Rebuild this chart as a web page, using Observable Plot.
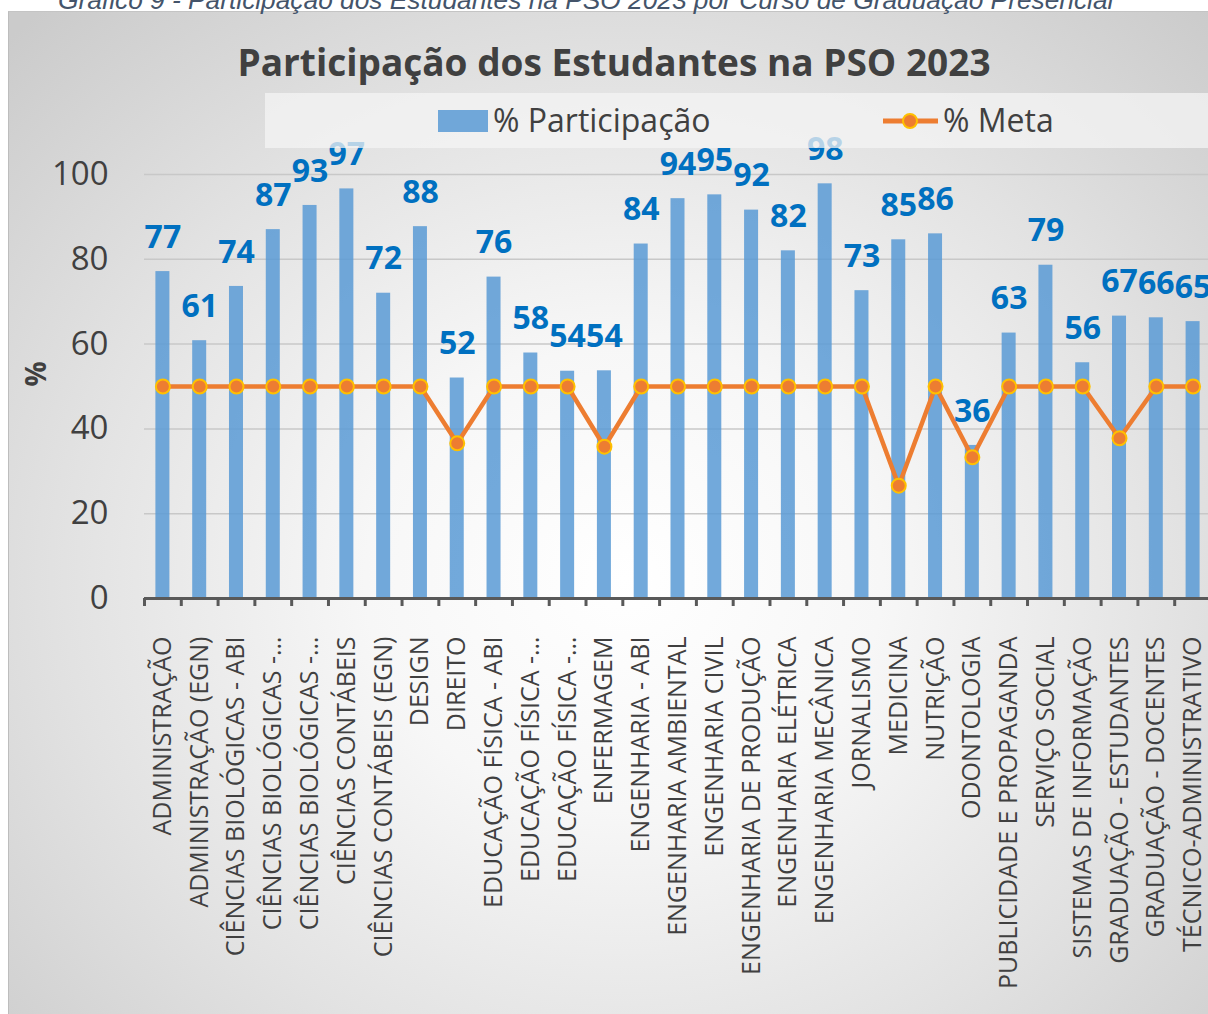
<!DOCTYPE html>
<html>
<head>
<meta charset="utf-8">
<script src="https://cdn.jsdelivr.net/npm/d3@7"></script>
<script src="https://cdn.jsdelivr.net/npm/@observablehq/plot@0.6"></script>
<style>
  html, body { margin: 0; padding: 0; background: #ffffff; overflow: hidden; }
  #chart { position: relative; width: 1208px; height: 1014px; overflow: hidden; font-family: "Open Sans", sans-serif; }
  #bg { position: absolute; left: 8px; top: 11px; width: 1230px; height: 1030px;
        background: radial-gradient(ellipse 70% 75% at 50% 55%, #ffffff 0%, #f7f7f7 30%, #e2e2e2 65%, #cbcbcb 100%);
        border-left: 1px solid #bdbdbd; border-top: 1px solid #c4c4c4; }
  #caption { position: absolute; left: 58px; top: -13px; font-family: "Liberation Sans", Arial, sans-serif; font-style: italic;
             font-size: 26.3px; line-height: 26px; color: #44546A; white-space: nowrap; }
  #title { position: absolute; left: 0; width: 1228px; top: 38px; text-align: center; font-weight: bold; font-size: 37px;
           line-height: 48px; color: #404040; white-space: nowrap; }
  #legendbox { position: absolute; left: 265px; top: 93px; width: 960px; height: 55px; background: rgba(244,244,244,0.75); }
  .leg { position: absolute; font-size: 32px; line-height: 42px; color: #404040; white-space: nowrap; }
  #plotwrap { position: absolute; left: 0; top: 120px; }
  #plotwrap svg { max-width: none; overflow: visible; }
</style>
</head>
<body>
<div id="chart">
  <div id="bg"></div>
  <div id="caption">Gráfico 9 - Participação dos Estudantes na PSO 2023 por Curso de Graduação Presencial</div>
  <div id="title">Participação dos Estudantes na PSO 2023</div>
  <div id="plotwrap"></div>
  <div id="legendbox"></div>
  <svg id="legsvg" width="1208" height="160" style="position:absolute;left:0;top:0;overflow:visible">
  </svg>
  <div class="leg" style="left:493px; top:99px;">% Participação</div>
  <div class="leg" style="left:943px; top:99px;">% Meta</div>
</div>
<script>
const categorias = [
  "ADMINISTRAÇÃO", "ADMINISTRAÇÃO (EGN)", "CIÊNCIAS BIOLÓGICAS - ABI", "CIÊNCIAS BIOLÓGICAS -…",
  "CIÊNCIAS BIOLÓGICAS -…", "CIÊNCIAS CONTÁBEIS", "CIÊNCIAS CONTÁBEIS (EGN)", "DESIGN", "DIREITO",
  "EDUCAÇÃO FÍSICA - ABI", "EDUCAÇÃO FÍSICA -…", "EDUCAÇÃO FÍSICA -…", "ENFERMAGEM", "ENGENHARIA - ABI",
  "ENGENHARIA AMBIENTAL", "ENGENHARIA CIVIL", "ENGENHARIA DE PRODUÇÃO", "ENGENHARIA ELÉTRICA",
  "ENGENHARIA MECÂNICA", "JORNALISMO", "MEDICINA", "NUTRIÇÃO", "ODONTOLOGIA", "PUBLICIDADE E PROPAGANDA",
  "SERVIÇO SOCIAL", "SISTEMAS DE INFORMAÇÃO", "GRADUAÇÃO - ESTUDANTES", "GRADUAÇÃO - DOCENTES",
  "TÉCNICO-ADMINISTRATIVO"
];
const participacao = [
  77.1, 60.8, 73.6, 87.0, 92.7, 96.6, 72.0, 87.7, 52.0, 75.8, 57.9, 53.6, 53.7, 83.6,
  94.3, 95.2, 91.6, 82.0, 97.8, 72.6, 84.6, 86.0, 36.1, 62.6, 78.6, 55.6, 66.6, 66.2, 65.3
];
const meta = [
  50, 50, 50, 50, 50, 50, 50, 50, 36.6, 50, 50, 50, 35.8, 50,
  50, 50, 50, 50, 50, 50, 26.6, 50, 33.3, 50, 50, 50, 37.8, 50, 50
];
const yTicks = [0, 20, 40, 60, 80, 100];

// keep duplicated truncated names distinct in the band scale
const keys = categorias.map((c, i) => i + "|" + c);
const nome = k => k.slice(k.indexOf("|") + 1);
const data = keys.map((k, i) => ({k, p: participacao[i], m: meta[i]}));

const W = 1211, ML = 144, MR = 0;
const step = (W - ML - MR) / categorias.length;
const barW = 14;

const chart = Plot.plot({
  width: W,
  height: 894,
  marginTop: 54,
  marginBottom: 416,
  marginLeft: ML,
  marginRight: MR,
  x: {domain: keys, padding: 0, round: false, label: null},
  y: {domain: [0, 100], label: null},
  style: {background: "transparent", fontFamily: "Open Sans", overflow: "visible"},
  marks: [
    Plot.gridY(yTicks.slice(1), {stroke: "#c8c8c8", strokeOpacity: 1, strokeWidth: 1.5}),
    Plot.barY(data, {x: "k", y: "p", fill: "#5B9BD5", fillOpacity: 0.86, insetLeft: (step - barW) / 2, insetRight: (step - barW) / 2}),
    Plot.ruleY([0], {stroke: "#595959", strokeWidth: 3}),
    Plot.ruleX(keys, {x: d => d, y1: 0, y2: 0, insetBottom: -8, dx: -step / 2, stroke: "#595959", strokeWidth: 3}),
    Plot.line(data, {x: "k", y: "m", stroke: "#ED7D31", strokeWidth: 4.5}),
    Plot.dot(data, {x: "k", y: "m", r: 7, fill: "#ED7D31", stroke: "#FFC000", strokeWidth: 2}),
    Plot.text(data, {x: "k", y: "p", text: d => d3.format(".0f")(d.p), dy: -34, fill: "#0070C0", fontWeight: "bold", fontSize: 32}),
    Plot.axisY(yTicks, {tickSize: 0, tickPadding: 36, fontSize: 33, fill: "#404040", label: null}),
    Plot.axisX({tickSize: 0, tickPadding: 38, tickRotate: -90, fontSize: 25, fill: "#404040", label: null, tickFormat: nome}),
    Plot.text(["%"], {frameAnchor: "left", dx: -107, rotate: -90, fontSize: 28, fontWeight: "bold", fill: "#404040"})
  ]
});
chart.style.maxWidth = "none";
document.getElementById("plotwrap").appendChild(chart);

// legend symbols
const legsvg = d3.select("#legsvg");
legsvg.append("rect").attr("x", 438).attr("y", 110).attr("width", 50).attr("height", 22)
  .attr("fill", "#5B9BD5").attr("fill-opacity", 0.86);
legsvg.append("line").attr("x1", 883).attr("x2", 938).attr("y1", 121).attr("y2", 121)
  .attr("stroke", "#ED7D31").attr("stroke-width", 5);
legsvg.append("circle").attr("cx", 910).attr("cy", 121).attr("r", 7)
  .attr("fill", "#ED7D31").attr("stroke", "#FFC000").attr("stroke-width", 2);
</script>
</body>
</html>
